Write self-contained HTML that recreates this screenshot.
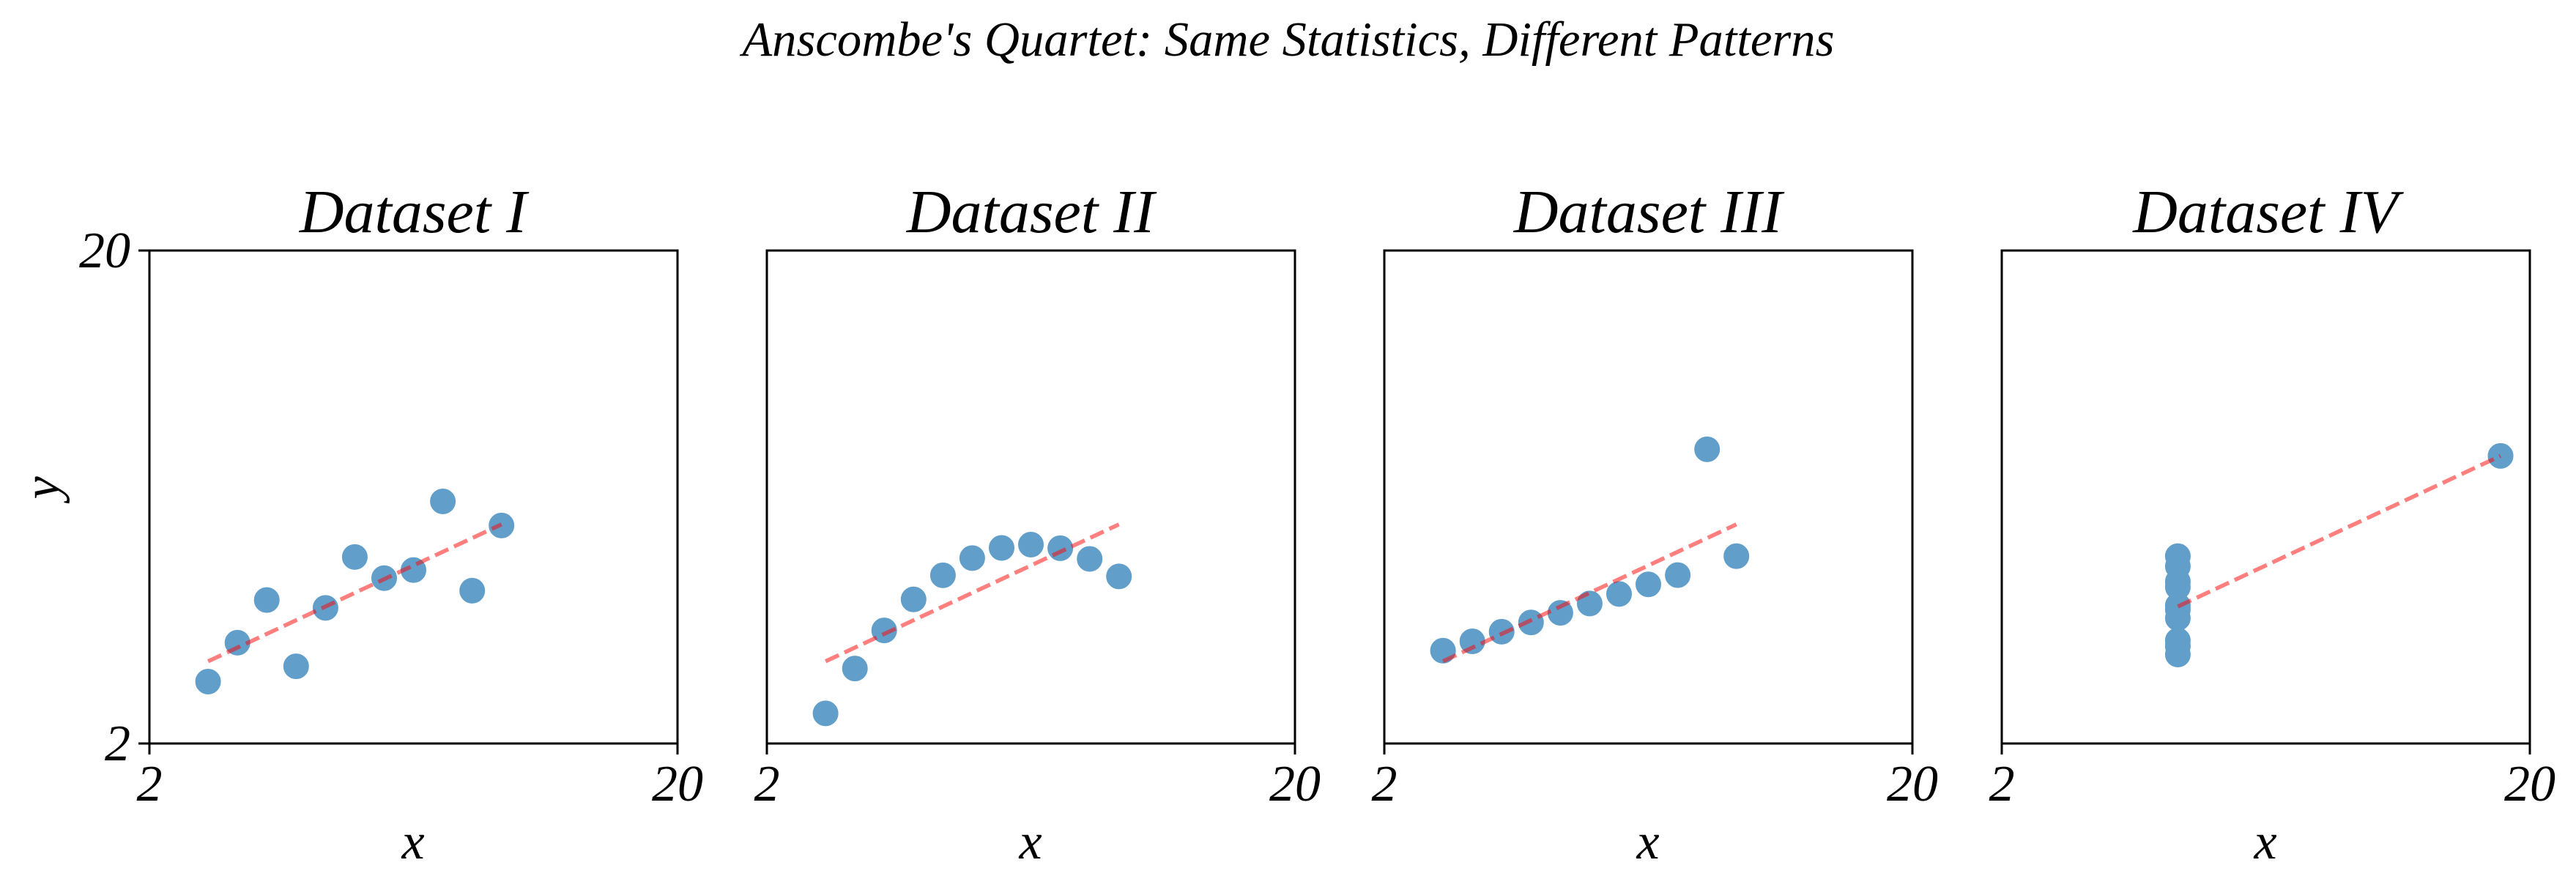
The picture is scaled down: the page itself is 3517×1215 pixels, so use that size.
<!DOCTYPE html>
<html><head><meta charset="utf-8"><style>html,body{margin:0;padding:0;background:#fff}svg{display:block}</style></head>
<body>
<svg width="3517" height="1215" viewBox="0 0 3517 1215" xmlns="http://www.w3.org/2000/svg" font-family="Liberation Serif, serif" font-style="italic">
<defs>
<g id="frame">
<rect x="204" y="342" width="721" height="673" fill="none" stroke="#000" stroke-width="3"/>
<line x1="204" y1="1015" x2="204" y2="1030" stroke="#000" stroke-width="3"/>
<line x1="925" y1="1015" x2="925" y2="1030" stroke="#000" stroke-width="3"/>
<text x="204" y="1093" font-size="70" text-anchor="middle">2</text>
<text x="925" y="1093" font-size="70" text-anchor="middle">20</text>
<text x="564" y="1172" font-size="70" text-anchor="middle">x</text>
</g>
</defs>
<text x="1759" y="76" font-size="67" text-anchor="middle" textLength="1491" lengthAdjust="spacingAndGlyphs">Anscombe's Quartet: Same Statistics, Different Patterns</text>

<g>
<use href="#frame"/>
<line x1="189" y1="342" x2="204" y2="342" stroke="#000" stroke-width="3"/>
<line x1="189" y1="1015" x2="204" y2="1015" stroke="#000" stroke-width="3"/>
<text x="178" y="365" font-size="70" text-anchor="end">20</text>
<text x="178" y="1038" font-size="70" text-anchor="end">2</text>
<text x="0" y="0" font-size="70" text-anchor="middle" transform="translate(80,666) rotate(-90)">y</text>
<text x="564" y="317" font-size="84" text-anchor="middle">Dataset I</text>
<g fill="#1f77b4" stroke="#1f77b4" stroke-width="3" opacity="0.7">
<circle cx="524.5" cy="789.2" r="16"/><circle cx="444.4" cy="829.9" r="16"/><circle cx="644.7" cy="806.4" r="16"/>
<circle cx="484.4" cy="760.4" r="16"/><circle cx="564.5" cy="778.3" r="16"/><circle cx="684.7" cy="717.4" r="16"/>
<circle cx="364.2" cy="819.1" r="16"/><circle cx="284.1" cy="930.5" r="16"/><circle cx="604.6" cy="684.5" r="16"/>
<circle cx="404.3" cy="909.6" r="16"/><circle cx="324.2" cy="877.4" r="16"/>
</g>
<line x1="284.1" y1="902.8" x2="684.7" y2="715.9" stroke="#ff0000" stroke-opacity="0.5" stroke-width="5.5" stroke-dasharray="20,8.5"/>
</g>

<g transform="translate(843,0)">
<use href="#frame"/>
<text x="564" y="317" font-size="84" text-anchor="middle">Dataset II</text>
<g fill="#1f77b4" stroke="#1f77b4" stroke-width="3" opacity="0.7">
<circle cx="524.5" cy="748.0" r="16"/><circle cx="444.4" cy="785.4" r="16"/><circle cx="644.7" cy="763.0" r="16"/>
<circle cx="484.4" cy="761.9" r="16"/><circle cx="564.5" cy="743.5" r="16"/><circle cx="684.7" cy="786.9" r="16"/>
<circle cx="364.2" cy="860.6" r="16"/><circle cx="284.1" cy="973.9" r="16"/><circle cx="604.6" cy="748.4" r="16"/>
<circle cx="404.3" cy="818.3" r="16"/><circle cx="324.2" cy="912.6" r="16"/>
</g>
<line x1="284.1" y1="902.8" x2="684.7" y2="715.9" stroke="#ff0000" stroke-opacity="0.5" stroke-width="5.5" stroke-dasharray="20,8.5"/>
</g>

<g transform="translate(1686,0)">
<use href="#frame"/>
<text x="564" y="317" font-size="84" text-anchor="middle">Dataset III</text>
<g fill="#1f77b4" stroke="#1f77b4" stroke-width="3" opacity="0.7">
<circle cx="524.5" cy="810.9" r="16"/><circle cx="444.4" cy="836.6" r="16"/><circle cx="644.7" cy="613.4" r="16"/>
<circle cx="484.4" cy="823.9" r="16"/><circle cx="564.5" cy="797.8" r="16"/><circle cx="684.7" cy="759.3" r="16"/>
<circle cx="364.2" cy="862.4" r="16"/><circle cx="284.1" cy="888.2" r="16"/><circle cx="604.6" cy="785.1" r="16"/>
<circle cx="404.3" cy="849.7" r="16"/><circle cx="324.2" cy="875.5" r="16"/>
</g>
<line x1="284.1" y1="902.8" x2="684.7" y2="715.9" stroke="#ff0000" stroke-opacity="0.5" stroke-width="5.5" stroke-dasharray="20,8.5"/>
</g>

<g transform="translate(2529,0)">
<use href="#frame"/>
<text x="564" y="317" font-size="84" text-anchor="middle">Dataset IV</text>
<g fill="#1f77b4" stroke="#1f77b4" stroke-width="3" opacity="0.7">
<circle cx="444.4" cy="843.8" r="16"/><circle cx="444.4" cy="874.4" r="16"/><circle cx="444.4" cy="801.5" r="16"/>
<circle cx="444.4" cy="759.3" r="16"/><circle cx="444.4" cy="773.1" r="16"/><circle cx="444.4" cy="826.6" r="16"/>
<circle cx="444.4" cy="893.5" r="16"/><circle cx="885.0" cy="622.4" r="16"/><circle cx="444.4" cy="881.9" r="16"/>
<circle cx="444.4" cy="794.0" r="16"/><circle cx="444.4" cy="832.2" r="16"/>
</g>
<line x1="444.4" y1="828" x2="885.0" y2="622.4" stroke="#ff0000" stroke-opacity="0.5" stroke-width="5.5" stroke-dasharray="20,8.5"/>
</g>
</svg>
</body></html>
